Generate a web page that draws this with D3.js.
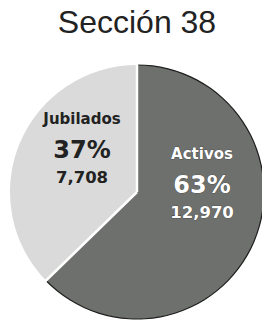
<!DOCTYPE html>
<html lang="es">
<head>
<meta charset="utf-8">
<title>Sección 38</title>
<script src="https://d3js.org/d3.v7.min.js"></script>
<style>
  body{margin:0;background:#fff;}
  svg{display:block;}
</style>
</head>
<body>
<div id="chart"></div>
<script>
// data
var categories = ["Activos", "Jubilados"]
var counts = [12970, 7708]
var percents = ["63%", "37%"]
var countLabels = ["12,970", "7,708"]
var title = "Sección 38"

var w = 262, h = 322
var cx = 137, cy = 192, r = 127

var colors = d3.scaleOrdinal().domain(categories).range(["#6e706d", "#dadada"])

var svg = d3.select("#chart").append("svg")
  .attr("width", w)
  .attr("height", h)

svg.append("text")
  .attr("x", cx)
  .attr("y", 33)
  .attr("text-anchor", "middle")
  .style("font-family", "'Liberation Sans', Arial, sans-serif")
  .style("font-size", "32px")
  .attr("fill", "#222")
  .text(title)

var data = categories.map(function(c, i){
  return {name: c, value: counts[i], pct: percents[i], label: countLabels[i]}
})

var pie = d3.pie().sort(null).value(function(d){ return d.value })
var arc = d3.arc().innerRadius(0).outerRadius(r)

var g = svg.append("g").attr("transform", "translate(" + cx + "," + cy + ")")

var slices = pie(data)

g.selectAll("path.slice")
  .data(slices)
  .enter()
  .append("path")
  .attr("class", "slice")
  .attr("d", arc)
  .attr("fill", function(d){ return colors(d.data.name) })

// dark rim on the Activos arc
var rim = d3.arc().innerRadius(r - 0.6).outerRadius(r + 0.6)
g.append("path")
  .attr("d", rim(slices[0]))
  .attr("fill", "#1e1e1e")

// white separators
g.selectAll("line.sep")
  .data(slices)
  .enter()
  .append("line")
  .attr("class", "sep")
  .attr("x1", 0).attr("y1", 0)
  .attr("x2", function(d){ return Math.sin(d.startAngle) * (r + 1) })
  .attr("y2", function(d){ return -Math.cos(d.startAngle) * (r + 1) })
  .attr("stroke", "#fff")
  .attr("stroke-width", 2.5)

// label anchors (offset from center, at the percent baseline)
var labelPos = [[65, 1], [-55, -34]]
var font = "'DejaVu Sans', Verdana, sans-serif"

var labels = g.selectAll("g.lab")
  .data(slices)
  .enter()
  .append("g")
  .attr("class", "lab")
  .attr("transform", function(d, i){ return "translate(" + labelPos[i][0] + "," + labelPos[i][1] + ")" })
  .attr("text-anchor", "middle")
  .style("font-family", font)
  .style("font-weight", "bold")
  .attr("fill", function(d, i){ return i == 0 ? "#fff" : "#222" })

labels.append("text")
  .attr("y", -34)
  .style("font-size", "15px")
  .text(function(d){ return d.data.name })

labels.append("text")
  .style("font-size", "24px")
  .text(function(d){ return d.data.pct })

labels.append("text")
  .attr("y", 25)
  .style("font-size", "16.5px")
  .text(function(d){ return d.data.label })

labels.filter(function(d, i){ return i == 0 }).selectAll("text")
  .attr("stroke", "#333")
  .attr("stroke-width", 0.6)
  .attr("paint-order", "stroke")
</script>
</body>
</html>
